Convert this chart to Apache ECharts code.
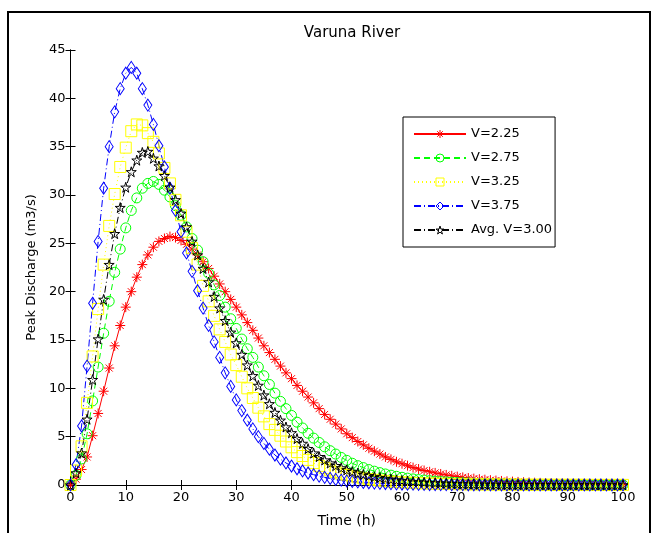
<!DOCTYPE html>
<html>
<head>
<meta charset="utf-8">
<script src="https://cdn.jsdelivr.net/npm/echarts@6/dist/echarts.min.js"></script>
<style>html,body{margin:0;padding:0;background:#fff}#c{width:660px;height:533px}</style>
</head>
<body>
<div id="c"></div>
<script>
const hours = [0,1,2,3,4,5,6,7,8,9,10,11,12,13,14,15,16,17,18,19,20,21,22,23,24,25,26,27,28,29,30,31,32,33,34,35,36,37,38,39,40,41,42,43,44,45,46,47,48,49,50,51,52,53,54,55,56,57,58,59,60,61,62,63,64,65,66,67,68,69,70,71,72,73,74,75,76,77,78,79,80,81,82,83,84,85,86,87,88,89,90,91,92,93,94,95,96,97,98,99,100];

const v225 = [0,0.6,1.6,2.9,5.1,7.4,9.7,12.1,14.4,16.5,
 18.4,20.0,21.5,22.8,23.8,24.6,25.2,25.5,25.7,25.6,
 25.3,24.9,24.4,23.8,23.1,22.4,21.6,20.8,20.0,19.2,
 18.4,17.6,16.8,16.0,15.2,14.4,13.7,13.0,12.3,11.6,
 11.0,10.3,9.7,9.1,8.5,7.9,7.3,6.8,6.3,5.8,
 5.3,4.9,4.5,4.15,3.8,3.5,3.2,2.9,2.65,2.4,
 2.2,2.0,1.8,1.65,1.5,1.37,1.25,1.14,1.04,0.95,
 0.87,0.79,0.72,0.66,0.6,0.55,0.5,0.46,0.42,0.38,
 0.35,0.32,0.29,0.26,0.24,0.22,0.2,0.18,0.16,0.15,
 0.13,0.12,0.11,0.1,0.09,0.08,0.075,0.07,0.06,0.055,
 0.05];

const v275 = [0,1.0,2.7,5.3,8.7,12.2,15.7,19.0,22.0,24.4,
 26.6,28.4,29.7,30.7,31.2,31.4,31.1,30.5,29.8,28.9,
 27.9,26.7,25.5,24.3,23.1,21.9,20.7,19.6,18.4,17.2,
 16.2,15.1,14.1,13.2,12.2,11.3,10.4,9.5,8.65,7.9,
 7.2,6.5,5.9,5.35,4.85,4.4,3.95,3.55,3.2,2.85,
 2.55,2.25,2.0,1.8,1.6,1.43,1.28,1.14,1.02,0.9,
 0.8,0.71,0.63,0.56,0.51,0.45,0.4,0.36,0.32,0.29,
 0.26,0.23,0.21,0.19,0.17,0.15,0.14,0.12,0.11,0.1,
 0.09,0.08,0.07,0.07,0.06,0.06,0.05,0.05,0.04,0.04,
 0.04,0.03,0.03,0.03,0.03,0.02,0.02,0.02,0.02,0.02,
 0.02];

const v325 = [0,1.5,4.0,8.5,13.3,18.2,22.8,26.8,30.1,32.9,
 34.9,36.6,37.3,37.2,36.4,35.5,34.3,32.8,31.2,29.5,
 27.9,26.2,24.5,22.8,20.6,19.0,17.5,16.1,14.8,13.5,
 12.4,11.2,10.0,9.0,8.0,7.1,6.3,5.7,5.1,4.5,
 3.9,3.4,3.0,2.6,2.27,1.98,1.74,1.52,1.33,1.17,
 1.03,0.9,0.79,0.69,0.61,0.53,0.46,0.4,0.35,0.31,
 0.27,0.24,0.21,0.19,0.17,0.15,0.13,0.12,0.11,0.1,
 0.09,0.08,0.07,0.07,0.06,0.06,0.05,0.05,0.05,0.04,
 0.04,0.04,0.03,0.03,0.03,0.03,0.03,0.02,0.02,0.02,
 0.02,0.02,0.02,0.02,0.01,0.01,0.01,0.01,0.01,0.01,
 0.01];

const v375 = [0,2.1,6.1,12.3,18.8,25.2,30.7,35.0,38.6,41.0,
 42.6,43.2,42.6,41.0,39.3,37.3,35.1,32.9,30.7,28.4,
 26.2,24.0,22.1,20.1,18.3,16.5,14.8,13.2,11.6,10.2,
 8.8,7.7,6.7,5.8,5.0,4.3,3.7,3.1,2.67,2.28,
 1.96,1.68,1.45,1.24,1.07,0.92,0.79,0.68,0.58,0.5,
 0.42,0.37,0.31,0.27,0.23,0.2,0.17,0.15,0.13,0.11,
 0.1,0.09,0.08,0.07,0.06,0.05,0.05,0.04,0.04,0.03,
 0.03,0.03,0.02,0.02,0.02,0.02,0.02,0.01,0.01,0.01,
 0.01,0.01,0.01,0.01,0.01,0.01,0.01,0.01,0.01,0.01,
 0.01,0.01,0.01,0.01,0.01,0.01,0.01,0.01,0.01,0.01,
 0.01];

const vAvg = [0,1.24,3.3,6.8,10.9,15.1,19.2,22.8,26.0,28.7,
 30.8,32.4,33.6,34.4,34.5,33.8,33.0,32.0,30.8,29.5,
 28.1,26.7,25.2,23.8,22.4,21.0,19.5,18.3,17.0,15.8,
 14.7,13.5,12.4,11.3,10.3,9.3,8.4,7.5,6.7,6.0,
 5.4,4.8,4.3,3.76,3.3,2.93,2.58,2.27,2.0,1.77,
 1.57,1.39,1.23,1.09,0.96,0.85,0.76,0.67,0.6,0.53,
 0.47,0.41,0.36,0.32,0.28,0.25,0.22,0.19,0.17,0.15,
 0.13,0.11,0.1,0.09,0.08,0.07,0.06,0.06,0.05,0.05,
 0.04,0.04,0.04,0.03,0.03,0.03,0.03,0.02,0.02,0.02,
 0.02,0.02,0.02,0.01,0.01,0.01,0.01,0.01,0.01,0.01,
 0.01];

const seriesNames = ['V=2.25','V=2.75','V=3.25','V=3.75','Avg. V=3.00'];
const xTicks = {min:0, max:100, step:10};
const yTicks = {min:0, max:45, step:5};

const pairs = (arr) => hours.map((h, i) => [h, arr[i]]);
const FONT = 'DejaVu Sans';
const ASTER = 'path://M5,0 L5,10 M0,5 L10,5 M1.5,1.5 L8.5,8.5 M8.5,1.5 L1.5,8.5';
const STAR = 'path://M50,0 L61,35 L98,35 L68,57 L79,91 L50,70 L21,91 L32,57 L2,35 L39,35 Z';
const clear = 'rgba(0,0,0,0)';

function mk(name, data, color, lineType, symbol, size) {
  return {
    name, type:'line', data: pairs(data),
    symbol, symbolSize: size, showAllSymbol: true,
    lineStyle:{color, width:1, type: lineType},
    itemStyle:{color: clear, borderColor: color, borderWidth: 1},
    emphasis:{disabled:true}, silent:true, z:2
  };
}

const chart = echarts.init(document.getElementById('c'), null, {renderer:'canvas'});
const axisCommon = {
  axisLine:{show:true, lineStyle:{color:'#000', width:1}},
  axisTick:{show:true, inside:true, length:5, lineStyle:{color:'#000'}},
  splitLine:{show:false},
};
chart.setOption({
  animation:false,
  backgroundColor:'#fff',
  title:{text:'Varuna River', left:347, top:21, textAlign:'center',
    textStyle:{fontFamily:FONT, fontSize:15, fontWeight:'normal', color:'#000'}},
  grid:{left:70.5, right:37, top:50, bottom:47.5, containLabel:false},
  legend:{
    data: seriesNames, orient:'vertical', left:403, top:117,
    backgroundColor:'#fff', borderColor:'#000', borderWidth:1,
    padding:[9,3,9,10], itemGap:8, itemWidth:52, itemHeight:10,
    itemStyle:{borderWidth:1},
    textStyle:{fontFamily:FONT, fontSize:13, color:'#000', lineHeight:16}
  },
  xAxis:[
    Object.assign({type:'value', min:xTicks.min, max:xTicks.max, interval:xTicks.step, position:'bottom',
      name:'Time (h)', nameLocation:'middle', nameGap:29,
      nameTextStyle:{fontFamily:FONT, fontSize:14, color:'#000'},
      axisLabel:{fontFamily:FONT, fontSize:13, color:'#000', margin:6}}, axisCommon),
    Object.assign({type:'value', min:xTicks.min, max:xTicks.max, interval:xTicks.step, position:'top',
      axisLabel:{show:false}}, axisCommon)
  ],
  yAxis:[
    Object.assign({type:'value', min:yTicks.min, max:yTicks.max, interval:yTicks.step, position:'left',
      name:'Peak Discharge (m3/s)', nameLocation:'middle', nameGap:32,
      nameTextStyle:{fontFamily:FONT, fontSize:13, color:'#000'},
      axisLabel:{fontFamily:FONT, fontSize:13, color:'#000', margin:5}}, axisCommon),
    Object.assign({type:'value', min:yTicks.min, max:yTicks.max, interval:yTicks.step, position:'right',
      axisLabel:{show:false}}, axisCommon)
  ],
  graphic:[{type:'rect', shape:{x:8, y:12, width:642, height:530},
    style:{fill:'none', stroke:'#000', lineWidth:2}, silent:true, z:-1}],
  series:[
    mk(seriesNames[0], v225, '#ff0000', 'solid', ASTER, 10),
    mk(seriesNames[1], v275, '#00ff00', [6,4], 'circle', 10),
    mk(seriesNames[2], v325, '#ffff00', [1,3], 'rect', 11),
    mk(seriesNames[3], v375, '#0000ff', [7,3,1,3], 'diamond', [8,12]),
    mk(seriesNames[4], vAvg, '#000000', [7,3,1,3], STAR, 10)
  ]
});
</script>
</body>
</html>
